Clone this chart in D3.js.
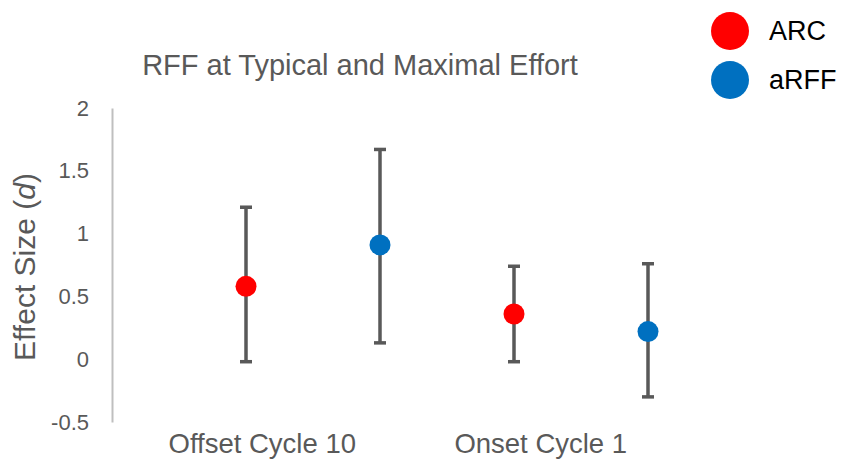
<!DOCTYPE html>
<html>
<head>
<meta charset="utf-8">
<script src="https://cdn.jsdelivr.net/npm/d3@7"></script>
<style>
  html, body { margin: 0; padding: 0; background: #fff; }
  svg { display: block; font-family: "Liberation Sans", Arial, sans-serif; }
</style>
</head>
<body>
<svg id="chart" width="843" height="462"></svg>
<script>
// Effect sizes (Cohen's d) with confidence limits, per condition
const categories = ["Offset Cycle 10", "Onset Cycle 1"];
const seriesNames = ["ARC", "aRFF"];
const seriesColors = ["#ff0000", "#0070c0"];
const arcValues = [0.58, 0.36];
const arcLower = [-0.02, -0.02];
const arcUpper = [1.21, 0.74];
const arffValues = [0.91, 0.22];
const arffLower = [0.13, -0.30];
const arffUpper = [1.67, 0.76];
const yTicks = [-0.5, 0, 0.5, 1, 1.5, 2];

const svg = d3.select("#chart");
const width = 843, height = 462;
const margin = { left: 112, right: 61, top: 108, bottom: 40 };
const plotRight = width - margin.right;

const points = [];
categories.forEach((c, i) => {
  points.push({ cat: c, series: 0, slot: i * 2 + 1, v: arcValues[i], lo: arcLower[i], hi: arcUpper[i] });
  points.push({ cat: c, series: 1, slot: i * 2 + 2, v: arffValues[i], lo: arffLower[i], hi: arffUpper[i] });
});

// Marker slots along x, and a band scale for the category labels
const x = d3.scaleLinear().domain([0, 5]).range([margin.left, plotRight]);
const xLabel = d3.scaleBand().domain(categories).range([123, 680]);
const y = d3.scaleLinear().domain([-0.5, 2]).range([422, margin.top]);

// Title
svg.append("text")
  .attr("x", 360).attr("y", 75)
  .attr("text-anchor", "middle")
  .attr("fill", "#595959")
  .style("font-size", "29px")
  .text("RFF at Typical and Maximal Effort");

// Y axis
const yAxis = d3.axisLeft(y).tickValues(yTicks).tickSize(0).tickPadding(23)
  .tickFormat(d => String(d));
const gy = svg.append("g").attr("transform", `translate(${margin.left},0)`).call(yAxis);
gy.select(".domain").attr("stroke", "#bfbfbf").attr("stroke-width", 2);
gy.selectAll("text").attr("fill", "#595959").style("font-size", "22px");

// Y axis title
svg.append("text")
  .attr("transform", `translate(35,${267}) rotate(-90)`)
  .attr("text-anchor", "middle")
  .attr("fill", "#595959")
  .style("font-size", "30px")
  .call(t => {
    t.append("tspan").text("Effect Size (");
    t.append("tspan").style("font-style", "italic").text("d");
    t.append("tspan").text(")");
  });

// Category labels
svg.append("g").selectAll("text")
  .data(categories)
  .join("text")
  .attr("x", d => xLabel(d) + xLabel.bandwidth() / 2)
  .attr("y", 453)
  .attr("text-anchor", "middle")
  .attr("fill", "#595959")
  .style("font-size", "27.5px")
  .text(d => d);

// Error bars
const capHalf = 6;
const eb = svg.append("g").attr("stroke", "#595959").attr("stroke-width", 3.5);
eb.selectAll("line.stem").data(points).join("line").attr("class", "stem")
  .attr("x1", d => x(d.slot)).attr("x2", d => x(d.slot))
  .attr("y1", d => y(d.hi)).attr("y2", d => y(d.lo));
eb.selectAll("line.capHi").data(points).join("line").attr("class", "capHi")
  .attr("x1", d => x(d.slot) - capHalf).attr("x2", d => x(d.slot) + capHalf)
  .attr("y1", d => y(d.hi)).attr("y2", d => y(d.hi));
eb.selectAll("line.capLo").data(points).join("line").attr("class", "capLo")
  .attr("x1", d => x(d.slot) - capHalf).attr("x2", d => x(d.slot) + capHalf)
  .attr("y1", d => y(d.lo)).attr("y2", d => y(d.lo));

// Point markers
svg.append("g").selectAll("circle").data(points).join("circle")
  .attr("cx", d => x(d.slot)).attr("cy", d => y(d.v))
  .attr("r", 10.5)
  .attr("fill", d => seriesColors[d.series]);

// Legend
const legend = svg.append("g").selectAll("g").data(seriesNames).join("g")
  .attr("transform", (d, i) => `translate(730,${31 + i * 49})`);
legend.append("circle").attr("r", 19).attr("fill", (d, i) => seriesColors[i]);
legend.append("text")
  .attr("x", 39).attr("y", 9)
  .attr("fill", "#000")
  .style("font-size", "27px")
  .text(d => d);
</script>
</body>
</html>
